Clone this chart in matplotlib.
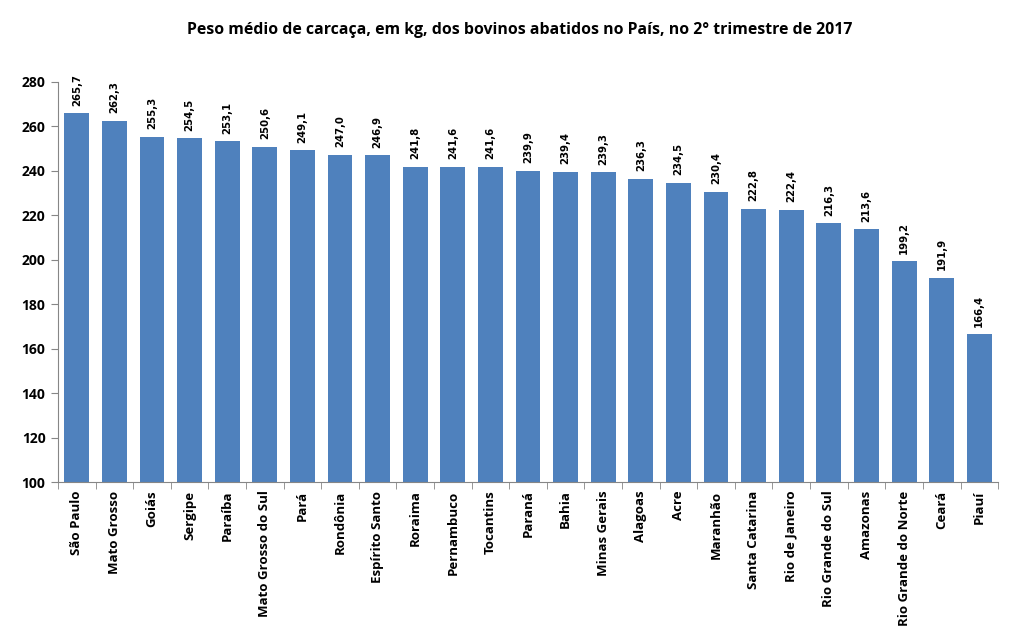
import matplotlib
matplotlib.use("Agg")
import matplotlib.pyplot as plt

estados = ["São Paulo", "Mato Grosso", "Goiás", "Sergipe", "Paraíba", "Mato Grosso do Sul",
           "Pará", "Rondônia", "Espírito Santo", "Roraima", "Pernambuco", "Tocantins",
           "Paraná", "Bahia", "Minas Gerais", "Alagoas", "Acre", "Maranhão",
           "Santa Catarina", "Rio de Janeiro", "Rio Grande do Sul", "Amazonas",
           "Rio Grande do Norte", "Ceará", "Piauí"]
peso = [265.7, 262.3, 255.3, 254.5, 253.1, 250.6, 249.1, 247.0, 246.9, 241.8, 241.6, 241.6,
        239.9, 239.4, 239.3, 236.3, 234.5, 230.4, 222.8, 222.4, 216.3, 213.6, 199.2, 191.9, 166.4]
yticks = list(range(100, 281, 20))

plt.rcParams['font.family'] = ['Open Sans', 'DejaVu Sans']

fig = plt.figure(figsize=(10.13, 6.32), dpi=100)
ax = fig.add_axes([0.0573, 0.237, 0.928, 0.634])

x = list(range(len(estados)))
ax.bar(x, peso, width=0.66, color="#4F81BD")

# rótulos de valor acima de cada barra
for xi, v in zip(x, peso):
    ax.text(xi, v + 3.4, f"{v:.1f}".replace(".", ","), rotation=90, ha="center", va="bottom",
            fontsize=7.3, fontweight="bold", family="DejaVu Sans")

ax.set_ylim(100, 280)
ax.set_xlim(-0.5, len(estados) - 0.5)
ax.set_yticks(yticks)
ax.set_yticklabels([str(t) for t in yticks], fontsize=10, fontweight="bold")
ax.set_xticks(x)
ax.set_xticklabels(estados, rotation=90, fontsize=9.5, fontweight="bold")
ax.tick_params(axis="x", length=0, pad=6)
ax.set_xticks([i - 0.5 for i in range(len(estados) + 1)], minor=True)
ax.tick_params(axis="x", which="minor", length=5, color="#868686")
ax.tick_params(axis="y", length=5, color="#868686", pad=4)

for s in ["top", "right"]:
    ax.spines[s].set_visible(False)
for s in ["left", "bottom"]:
    ax.spines[s].set_color("#868686")

fig.text(520 / 1013, 1 - 30 / 632, "Peso médio de carcaça, em kg, dos bovinos abatidos no País, no 2° trimestre de 2017",
         ha="center", va="center", fontsize=11.4, fontweight="bold")

fig.savefig("out.png", dpi=100)
